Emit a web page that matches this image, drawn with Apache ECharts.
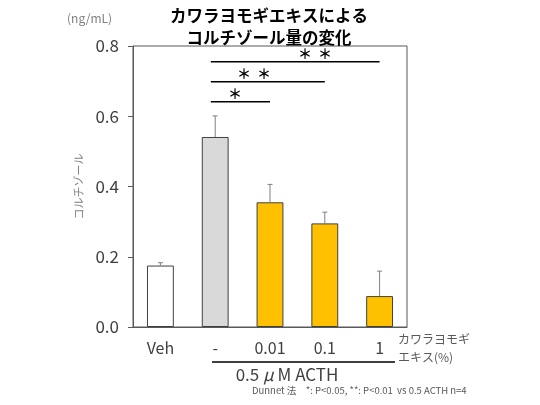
<!DOCTYPE html>
<html>
<head>
<meta charset="utf-8">
<script src="https://cdn.jsdelivr.net/npm/echarts@6/dist/echarts.min.js"></script>
<style>
  html, body { margin: 0; padding: 0; background: #fff; }
  #chart { width: 540px; height: 405px; }
</style>
</head>
<body>
<div id="chart"></div>
<script>
// data
const categories = ["Veh", "-", "0.01", "0.1", "1"];
const means = [0.175, 0.541, 0.355, 0.295, 0.088];
const errors = [0.008, 0.060, 0.051, 0.032, 0.071];
const barColors = ["#ffffff", "#d9d9d9", "#ffc000", "#ffc000", "#ffc000"];
const yTicks = [0, 0.2, 0.4, 0.6, 0.8];
// significance brackets: [toCategory, yValue, starCount, labelPosition]
const sigBrackets = [
  [4, 0.755, 2, 2.82],
  [3, 0.698, 2, 1.71],
  [2, 0.641, 1, 1.36],
];

const font = '"Noto Sans CJK JP", "Noto Sans", sans-serif';
const chart = echarts.init(document.getElementById("chart"));

const option = {
  backgroundColor: "#fff",
  animation: false,
  textStyle: { fontFamily: font },
  grid: {
    left: 133, right: 133, top: 46, bottom: 78,
    show: true, borderColor: "#595959", borderWidth: 1,
  },
  xAxis: {
    type: "category",
    data: categories,
    axisLine: { lineStyle: { color: "#595959" } },
    axisTick: { show: false },
    axisLabel: { color: "#404040", fontSize: 16, margin: 13, fontFamily: font },
  },
  yAxis: {
    type: "value",
    min: yTicks[0],
    max: yTicks[yTicks.length - 1],
    interval: 0.2,
    name: "コルチゾール",
    nameLocation: "middle",
    nameGap: 37,
    nameTextStyle: { color: "#808080", fontSize: 11, fontFamily: font },
    splitLine: { show: false },
    axisLine: { show: true, lineStyle: { color: "#595959" } },
    axisTick: { show: true, length: 5, lineStyle: { color: "#595959" } },
    axisLabel: {
      color: "#404040", fontSize: 17, margin: 14, fontFamily: font,
      formatter: (v) => v.toFixed(1),
    },
  },
  series: [
    {
      type: "bar",
      barWidth: "49%",
      data: means.map((v, i) => ({
        value: v,
        itemStyle: { color: barColors[i], borderColor: "#404040", borderWidth: 1 },
      })),
      z: 2,
    },
    {
      type: "custom",
      z: 3,
      data: means.map((v, i) => [i, v, v + errors[i]]),
      renderItem: (params, api) => {
        const low = api.coord([api.value(0), api.value(1)]);
        const high = api.coord([api.value(0), api.value(2)]);
        return {
          type: "group",
          children: [
            { type: "line", shape: { x1: low[0], y1: low[1], x2: high[0], y2: high[1] },
              style: { stroke: "#7f7f7f", lineWidth: 1 } },
            { type: "line", shape: { x1: high[0] - 2.5, y1: high[1], x2: high[0] + 2.5, y2: high[1] },
              style: { stroke: "#7f7f7f", lineWidth: 1 } },
          ],
        };
      },
    },
    {
      type: "custom",
      z: 4,
      data: sigBrackets,
      renderItem: (params, api) => {
        const b = sigBrackets[params.dataIndex];
        const band = api.size([1, 0])[0];
        const start = api.coord([1, b[1]]);
        const end = api.coord([b[0], b[1]]);
        const lx = start[0] + (b[3] - 1) * band;
        const children = [
          { type: "line", shape: { x1: start[0] - 0.08 * band, y1: start[1], x2: end[0], y2: end[1] },
            style: { stroke: "#000", lineWidth: 1.5 } },
        ];
        for (let k = 0; k < b[2]; k++) {
          const off = (k - (b[2] - 1) / 2) * 20;
          children.push({ type: "text", x: lx + off, y: start[1] - 1,
            style: { text: "＊", font: "bold 14px " + font, fill: "#000",
                     textAlign: "center", textVerticalAlign: "bottom" } });
        }
        return { type: "group", children };
      },
    },
  ],
  graphic: [
    { type: "text", x: 269, y: 5,
      style: { text: "カワラヨモギエキスによる\nコルチゾール量の変化", font: "bold 16.5px " + font,
               fill: "#000", textAlign: "center", textVerticalAlign: "top", lineHeight: 22 } },
    { type: "text", x: 67, y: 12,
      style: { text: "(ng/mL)", font: "12px " + font, fill: "#7f7f7f", textVerticalAlign: "top" } },
    { type: "text", x: 398, y: 330,
      style: { text: "カワラヨモギ\nエキス(%)", font: "12px " + font, fill: "#595959",
               lineHeight: 18, textVerticalAlign: "top" } },
    { type: "line", shape: { x1: 212, y1: 362, x2: 395, y2: 362 },
      style: { stroke: "#000", lineWidth: 1.5 } },
    { type: "text", x: 287, y: 366,
      style: {
        text: "{n|0.5 }{m|\u03bc}{n| M ACTH}", textAlign: "center", textVerticalAlign: "top",
        rich: {
          n: { font: "17px " + font, fill: "#404040" },
          m: { font: "italic 17px " + font, fill: "#404040" },
        },
      } },
    { type: "text", x: 252, y: 386,
      style: { text: "Dunnet 法　*: P<0.05, **: P<0.01  vs 0.5 ACTH n=4", font: "9.5px " + font,
               fill: "#595959", textVerticalAlign: "top" } },
  ],
};
chart.setOption(option);
</script>
</body>
</html>
